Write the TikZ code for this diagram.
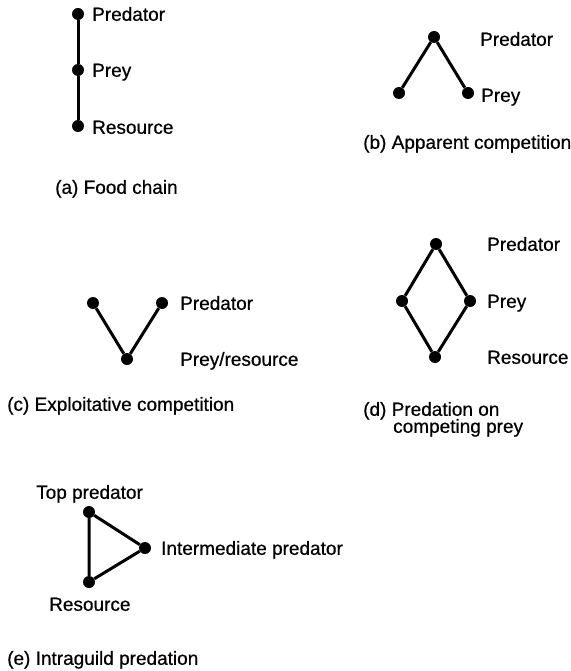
\documentclass[tikz,border=0pt]{standalone}
\usepackage{fontspec}
\setmainfont{Liberation Sans}[FakeBold=0.6]
\usepackage{tikz}

\begin{document}
\begin{tikzpicture}[x=1pt,y=-1pt,
    dot/.style={circle,fill=black,minimum size=12pt,inner sep=0pt},
    lbl/.style={anchor=west,inner sep=0pt,text height=13.6pt,text depth=0pt,font=\fontsize{19}{21}\selectfont},
    link/.style={line width=3pt}]
    \useasboundingbox (0,0) rectangle (570,671);
    \clip (0,0) rectangle (570,671);

    % (a) catena alimentare
    \node[dot] (a1) at (78,14) {};
    \node[dot] (a2) at (78,70) {};
    \node[dot] (a3) at (78,126) {};
    \node[lbl] (a1l) at (92,14) {Predator};
    \node[lbl] (a2l) at (92,70) {Prey};
    \node[lbl] (a3l) at (92,127) {Resource};
    \node[lbl] (capa) at (55,187) {(a) Food chain};
    \draw[link] (a1) -- (a2);
    \draw[link] (a2) -- (a3);

    % (b) competizione apparente
    \node[dot] (b1) at (434,37) {};
    \node[dot] (b2) at (399,93) {};
    \node[dot] (b3) at (468,93) {};
    \node[lbl] (b1l) at (480,39) {Predator};
    \node[lbl] (b3l) at (481,95) {Prey};
    \node[lbl] (capb) at (363,142) {(b) Apparent competition};
    \draw[link] (b2) -- (b1) -- (b3);

    % (c) competizione per sfruttamento
    \node[dot] (c1) at (93,303) {};
    \node[dot] (c2) at (162,303) {};
    \node[dot] (c3) at (127,359) {};
    \node[lbl] (c2l) at (180,303) {Predator};
    \node[lbl] (c3l) at (180,359) {Prey/resource};
    \node[lbl] (capc) at (7,404) {(c) Exploitative competition};
    \draw[link] (c1) -- (c3) -- (c2);

    % (d) predazione su prede in competizione
    \node[dot] (d1) at (436,244) {};
    \node[dot] (d2) at (402,301) {};
    \node[dot] (d3) at (470,301) {};
    \node[dot] (d4) at (435,357) {};
    \node[lbl] (d1l) at (487,244) {Predator};
    \node[lbl] (d3l) at (487,301) {Prey};
    \node[lbl] (d4l) at (487,357) {Resource};
    \node[lbl] (capd) at (363,409) {(d) Predation on};
    \node[lbl] (capdb) at (393,426) {competing prey};
    \draw[link] (d1) -- (d2) -- (d4) -- (d3) -- (d1);

    % (e) predazione intragilda
    \node[dot] (e1) at (89,512) {};
    \node[dot] (e2) at (145,548) {};
    \node[dot] (e3) at (89,582) {};
    \node[lbl] (e1l) at (36,492) {Top predator};
    \node[lbl] (e2l) at (161,548) {Intermediate predator};
    \node[lbl] (e3l) at (49,604) {Resource};
    \node[lbl] (cape) at (7,658) {(e) Intraguild predation};
    \draw[link] (e1) -- (e2) -- (e3) -- (e1);
\end{tikzpicture}
\end{document}
